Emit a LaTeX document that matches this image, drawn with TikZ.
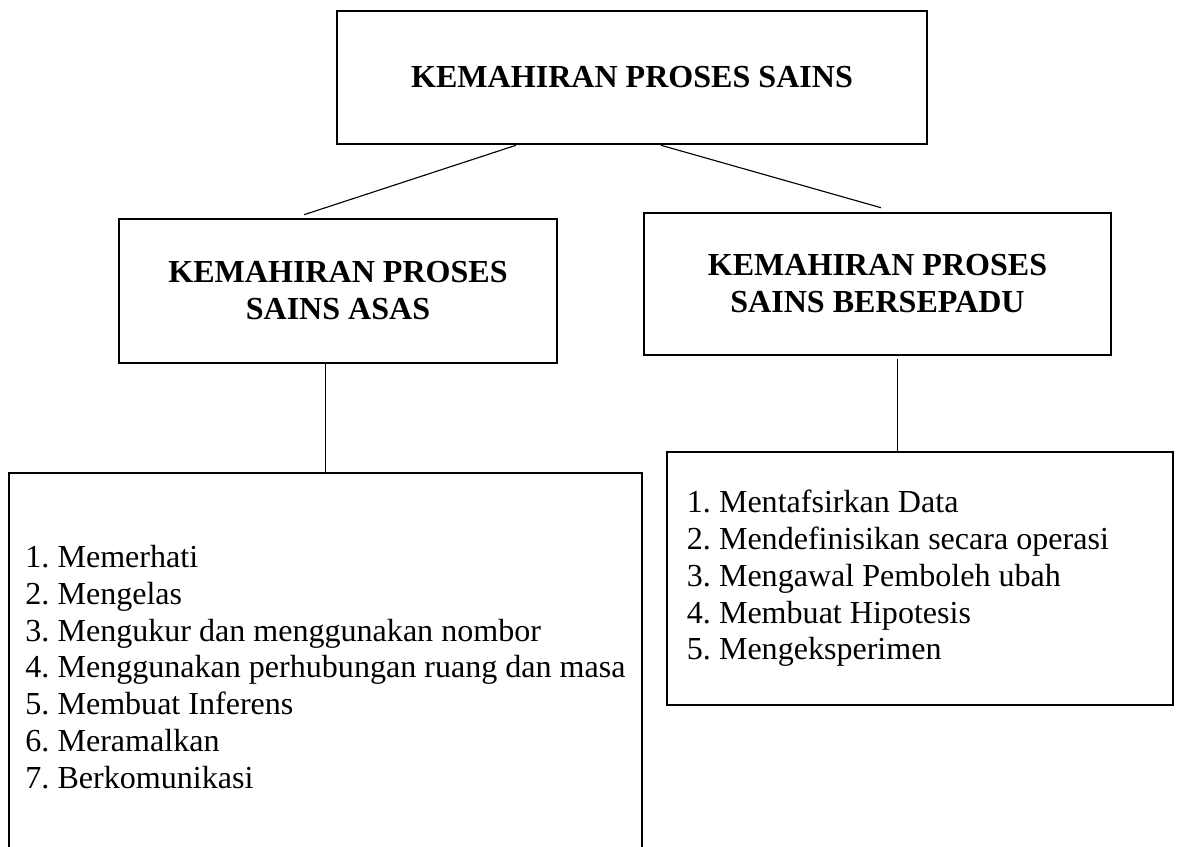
\documentclass[tikz,border=0pt]{standalone}
\usepackage{fontspec}
\setmainfont{Liberation Serif}
\usepackage{tikz}
\usetikzlibrary{positioning, calc}
\frenchspacing

\begin{document}
\begin{tikzpicture}[
    x=0.025cm, y=-0.025cm,
    title/.style={rectangle, draw=black, line width=1.8pt, align=center, inner sep=0pt, font=\fontsize{22.8}{26.3}\selectfont\bfseries},
    list/.style={rectangle, draw=black, line width=1.6pt, align=flush left, font=\fontsize{22.8}{26.1}\selectfont\frenchspacing},
    link/.style={line width=0.8pt},
]
\useasboundingbox[fill=white] (0,0) rectangle (1178,847);
\clip (0,0) rectangle (1178,847);

% Title nodes
\node[title, minimum width=14.75cm, minimum height=3.325cm] (top) at (632,77.5) {KEMAHIRAN PROSES SAINS};
\node[title, minimum width=10.95cm, minimum height=3.6cm] (asas) at (338,291) {KEMAHIRAN PROSES\\SAINS ASAS};
\node[title, minimum width=11.675cm, minimum height=3.55cm] (sepadu) at (877.5,284) {KEMAHIRAN PROSES\\SAINS BERSEPADU};

% List nodes
\node[list, minimum width=15.825cm, minimum height=9.7cm] (asaslist) at (325.5,667) {%
1. Memerhati\\
2. Mengelas\\
3. Mengukur dan menggunakan nombor\\
4. Menggunakan perhubungan ruang dan masa\\
5. Membuat Inferens\\
6. Meramalkan\\
7. Berkomunikasi};
\node[list, minimum width=12.65cm, minimum height=6.325cm, text width=11.65cm, inner xsep=0.5cm] (sepadulist) at (920,578.5) {%
1. Mentafsirkan Data\\
2. Mendefinisikan secara operasi\\
3. Mengawal Pemboleh ubah\\
4. Membuat Hipotesis\\
5. Mengeksperimen};

% Lines
\coordinate (rdrop) at ($(sepadu.south)+(20,3)$);
\draw[link] ($(top.south)+(-116,0)$) -- ($(asas.north)+(-34,-3)$);
\draw[link] ($(top.south)+(29,0)$) -- ($(sepadu.north)+(3.5,-4)$);
\draw[link] (asaslist.north |- asas.south) -- (asaslist.north);
\draw[link] (rdrop) -- (rdrop |- sepadulist.north);

\end{tikzpicture}
\end{document}
